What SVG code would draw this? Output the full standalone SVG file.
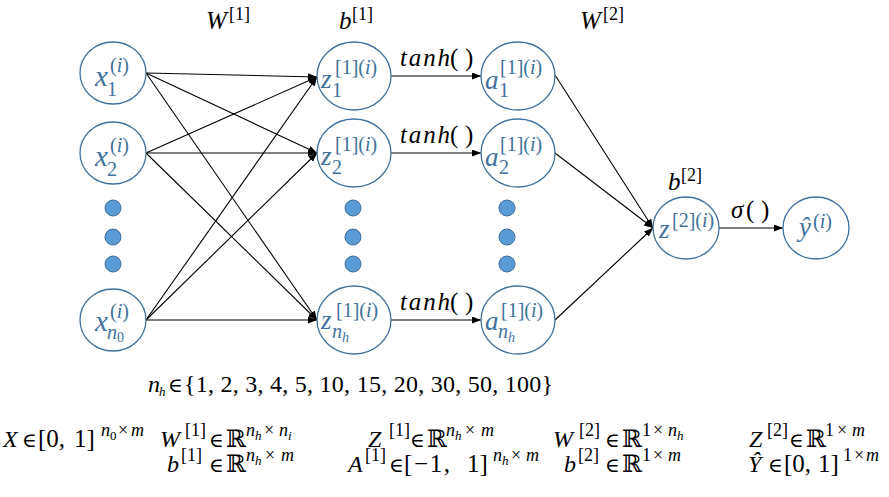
<svg xmlns="http://www.w3.org/2000/svg" width="889" height="497" viewBox="0 0 889 497">
<style>
text { font-family: "Liberation Serif", "DejaVu Serif", serif; fill: #000; }
.i { font-style: italic; }
.nt text { fill: #41719C; }
.node ellipse { fill: #fff; stroke: #41719C; stroke-width: 1.3; }
.dot { fill: #5B9BD5; stroke: #41719C; stroke-width: 1; }
.edge { stroke: #000; stroke-width: 1.1; fill: none; marker-end: url(#arr); }
.b { font-size: 24px; }
.e { font-size: 20px; }
.s { font-size: 18px; }
.ss { font-size: 13px; }
.L { font-size: 25px; }
.xb { font-size: 29px; }
.nb { font-size: 27px; }
.ns { font-size: 20px; }
.nss { font-size: 14px; }
</style>
<defs>
<marker id="arr" markerUnits="userSpaceOnUse" markerWidth="9" markerHeight="7" refX="9" refY="3.5" orient="auto" viewBox="0 0 9 7">
<path d="M0,0 L9,3.5 L0,7 z" fill="#000"/>
</marker>
</defs>
<rect width="889" height="497" fill="#fff"/>

<g id="connectors">
<line class="edge" x1="146" y1="73" x2="317" y2="77"/>
<line class="edge" x1="146" y1="73" x2="317" y2="153"/>
<line class="edge" x1="146" y1="73" x2="317" y2="320"/>
<line class="edge" x1="146" y1="153" x2="317" y2="77"/>
<line class="edge" x1="146" y1="153" x2="317" y2="153"/>
<line class="edge" x1="146" y1="153" x2="317" y2="320"/>
<line class="edge" x1="146" y1="320" x2="317" y2="77"/>
<line class="edge" x1="146" y1="320" x2="317" y2="153"/>
<line class="edge" x1="146" y1="320" x2="317" y2="320"/>
<line class="edge" x1="391" y1="76" x2="481" y2="76"/>
<line class="edge" x1="391" y1="153" x2="481" y2="153"/>
<line class="edge" x1="391" y1="320" x2="481" y2="320"/>
<line class="edge" x1="555" y1="75" x2="653" y2="228"/>
<line class="edge" x1="555" y1="153" x2="653" y2="228"/>
<line class="edge" x1="555" y1="320" x2="653" y2="228"/>
<line class="edge" x1="719" y1="228" x2="783" y2="228"/>
</g>

<g id="x1" class="node nt">
<ellipse cx="113" cy="73" rx="33" ry="31"/>
<text x="95" y="86" class="i xb">x</text>
<text x="107" y="96" class="ns">1</text>
<text x="110" y="72" class="ns">(<tspan class="i">i</tspan>)</text>
</g>
<g id="x2" class="node nt">
<ellipse cx="113" cy="153" rx="33" ry="31"/>
<text x="95" y="166" class="i xb">x</text>
<text x="107" y="176" class="ns">2</text>
<text x="110" y="152" class="ns">(<tspan class="i">i</tspan>)</text>
</g>
<g id="xn" class="node nt">
<ellipse cx="113" cy="320" rx="33" ry="31"/>
<text x="95" y="331" class="i xb">x</text>
<text x="107" y="339" class="i ns">n</text>
<text x="117" y="342" class="nss">0</text>
<text x="110" y="318" class="ns">(<tspan class="i">i</tspan>)</text>
</g>
<g id="xdots">
<circle class="dot" cx="113" cy="208" r="8"/>
<circle class="dot" cx="113" cy="237" r="8"/>
<circle class="dot" cx="113" cy="264" r="8"/>
</g>

<g id="z1" class="node nt">
<ellipse cx="354" cy="76" rx="37" ry="34"/>
<text x="321" y="88" class="i nb">z</text>
<text x="332" y="97" class="ns">1</text>
<text x="335" y="74" class="ns">[1](<tspan class="i">i</tspan>)</text>
</g>
<g id="z2" class="node nt">
<ellipse cx="354" cy="153" rx="37" ry="34"/>
<text x="321" y="165" class="i nb">z</text>
<text x="332" y="174" class="ns">2</text>
<text x="335" y="151" class="ns">[1](<tspan class="i">i</tspan>)</text>
</g>
<g id="zn" class="node nt">
<ellipse cx="354" cy="320" rx="37" ry="34"/>
<text x="321" y="329" class="i nb">z</text>
<text x="332" y="338" class="i ns">n</text>
<text x="342" y="342" class="i nss">h</text>
<text x="336" y="317" class="ns">[1](<tspan class="i">i</tspan>)</text>
</g>
<g id="zdots">
<circle class="dot" cx="353" cy="208" r="8"/>
<circle class="dot" cx="353" cy="237" r="8"/>
<circle class="dot" cx="353" cy="264" r="8"/>
</g>

<g id="a1" class="node nt">
<ellipse cx="518" cy="76" rx="37" ry="34"/>
<text x="485" y="89" class="i nb">a</text>
<text x="499" y="97" class="ns">1</text>
<text x="500" y="74" class="ns">[1](<tspan class="i">i</tspan>)</text>
</g>
<g id="a2" class="node nt">
<ellipse cx="518" cy="153" rx="37" ry="34"/>
<text x="485" y="166" class="i nb">a</text>
<text x="499" y="174" class="ns">2</text>
<text x="500" y="151" class="ns">[1](<tspan class="i">i</tspan>)</text>
</g>
<g id="an" class="node nt">
<ellipse cx="518" cy="320" rx="37" ry="34"/>
<text x="485" y="330" class="i nb">a</text>
<text x="498" y="338" class="i ns">n</text>
<text x="508" y="342" class="i nss">h</text>
<text x="501" y="317" class="ns">[1](<tspan class="i">i</tspan>)</text>
</g>
<g id="adots">
<circle class="dot" cx="507" cy="208" r="8"/>
<circle class="dot" cx="507" cy="237" r="8"/>
<circle class="dot" cx="507" cy="264" r="8"/>
</g>

<g id="zout" class="node nt">
<ellipse cx="686" cy="228" rx="33" ry="31"/>
<text x="659" y="238" class="i nb">z</text>
<text x="672" y="227" class="ns">[2](<tspan class="i">i</tspan>)</text>
</g>
<g id="yhat" class="node nt">
<ellipse cx="816" cy="228" rx="33" ry="31"/>
<text x="799" y="236" class="i nb">ŷ</text>
<text x="813" y="228" class="ns">(<tspan class="i">i</tspan>)</text>
</g>

<g id="labels">
<text x="206" y="29" class="i L">W</text><text x="229" y="20" class="s">[1]</text>
<text x="339" y="29" class="i L">b</text><text x="352" y="20" class="s">[1]</text>
<text x="580" y="29" class="i L">W</text><text x="603" y="20" class="s">[2]</text>
<text x="668" y="190" class="i L">b</text><text x="681" y="181" class="s">[2]</text>
<text x="400" y="66" class="i L" textLength="50">tanh</text><text x="450" y="66" class="L">(</text><text x="465" y="66" class="L">)</text>
<text x="400" y="143" class="i L" textLength="50">tanh</text><text x="450" y="143" class="L">(</text><text x="465" y="143" class="L">)</text>
<text x="400" y="310" class="i L" textLength="50">tanh</text><text x="450" y="310" class="L">(</text><text x="465" y="310" class="L">)</text>
<text x="731" y="218" class="i L">σ</text><text x="746" y="218" class="L">(</text><text x="761" y="218" class="L">)</text>
</g>

<g id="nh-set">
<text x="148" y="392" class="i b">n</text>
<text x="159" y="396" class="i ss">h</text>
<text x="168" y="392" class="e">∈</text>
<text x="184" y="392" class="b" textLength="369" lengthAdjust="spacing">{1, 2, 3, 4, 5, 10, 15, 20, 30, 50, 100}</text>
</g>

<g id="dims">
<text x="3" y="447" class="i b">X</text>
<text x="22" y="447" class="e">∈</text>
<text x="38" y="447" class="L">[0,</text><text x="74" y="447" class="L">1]</text>
<text x="101" y="436" class="i s">n</text><text x="110" y="440" class="ss">0</text><text x="118" y="436" class="s">×</text><text x="131" y="436" class="i s">m</text>

<text x="160" y="447" class="i b">W</text>
<text x="185" y="436" class="s">[1]</text>
<text x="209" y="447" class="e">∈</text>
<text x="226" y="447" class="b">ℝ</text>
<text x="246" y="436" class="i s">n</text><text x="255" y="440" class="i ss">h</text><text x="264" y="436" class="s">×</text><text x="279" y="436" class="i s">n</text><text x="288" y="440" class="i ss">i</text>

<text x="368" y="447" class="i b">Z</text>
<text x="389" y="436" class="s">[1]</text>
<text x="410" y="447" class="e">∈</text>
<text x="427" y="447" class="b">ℝ</text>
<text x="446" y="436" class="i s">n</text><text x="455" y="440" class="i ss">h</text><text x="465" y="436" class="s">×</text><text x="481" y="436" class="i s">m</text>

<text x="553" y="447" class="i b">W</text>
<text x="579" y="436" class="s">[2]</text>
<text x="605" y="447" class="e">∈</text>
<text x="622" y="447" class="b">ℝ</text>
<text x="642" y="436" class="s">1</text><text x="653" y="436" class="s">×</text><text x="668" y="436" class="i s">n</text><text x="677" y="440" class="i ss">h</text>

<text x="749" y="447" class="i b">Z</text>
<text x="767" y="436" class="s">[2]</text>
<text x="789" y="447" class="e">∈</text>
<text x="806" y="447" class="b">ℝ</text>
<text x="825" y="436" class="s">1</text><text x="837" y="436" class="s">×</text><text x="852" y="436" class="i s">m</text>

<text x="167" y="472" class="i b">b</text>
<text x="181" y="461" class="s">[1]</text>
<text x="209" y="472" class="e">∈</text>
<text x="226" y="472" class="b">ℝ</text>
<text x="246" y="461" class="i s">n</text><text x="255" y="465" class="i ss">h</text><text x="265" y="461" class="s">×</text><text x="281" y="461" class="i s">m</text>

<text x="348" y="472" class="i b">A</text>
<text x="365" y="461" class="s">[1]</text>
<text x="389" y="472" class="e">∈</text>
<text x="404" y="472" class="L" textLength="46" lengthAdjust="spacing">[−1,</text><text x="467" y="472" class="L">1]</text>
<text x="493" y="461" class="i s">n</text><text x="502" y="465" class="i ss">h</text><text x="511" y="461" class="s">×</text><text x="526" y="461" class="i s">m</text>

<text x="564" y="472" class="i b">b</text>
<text x="578" y="461" class="s">[2]</text>
<text x="605" y="472" class="e">∈</text>
<text x="622" y="472" class="b">ℝ</text>
<text x="642" y="461" class="s">1</text><text x="653" y="461" class="s">×</text><text x="668" y="461" class="i s">m</text>

<text x="748" y="472" class="i b">Ŷ</text>
<text x="768" y="472" class="e">∈</text>
<text x="784" y="472" class="L">[0,</text><text x="818" y="472" class="L">1]</text>
<text x="843" y="461" class="s">1</text><text x="854" y="461" class="s">×</text><text x="866" y="461" class="i s">m</text>
</g>
</svg>
